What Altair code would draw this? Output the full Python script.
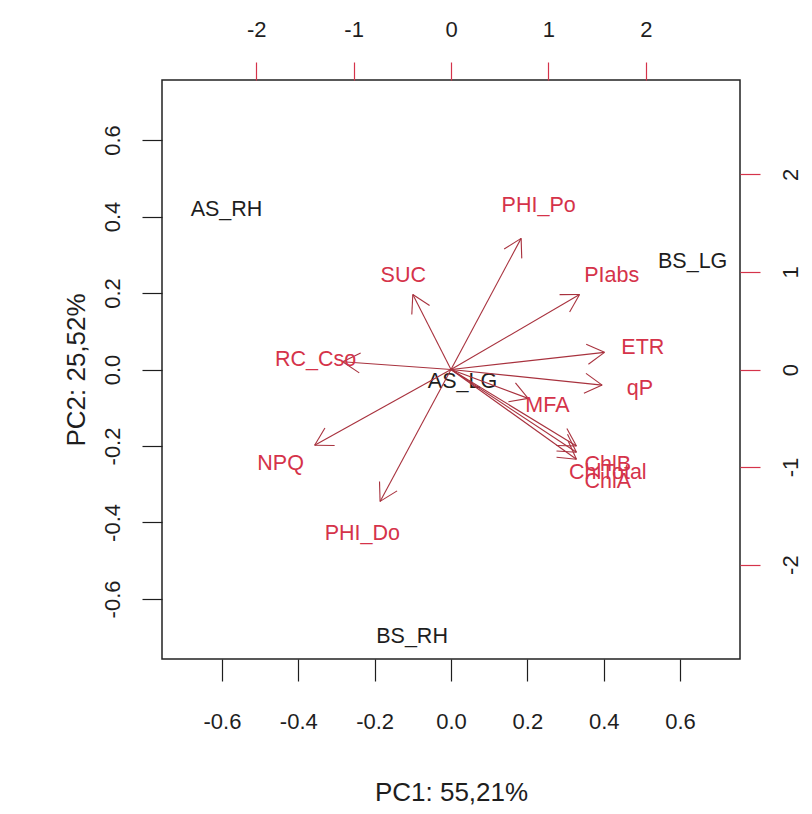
import math
import altair as alt
import pandas as pd

# ---- data ----
score_names = ["AS_RH", "BS_LG", "AS_LG", "BS_RH"]
score_pc1 = [-0.588, 0.633, 0.030, -0.102]
score_pc2 = [0.418, 0.282, -0.033, -0.700]

var_names = ["PHI_Po", "SUC", "PIabs", "ETR", "qP", "MFA",
             "ChlTotal", "ChlB", "ChlA", "RC_Cso", "NPQ", "PHI_Do"]
var_pc1 = [0.90, -0.49, 1.65, 1.97, 1.94, 0.99, 1.61, 1.61, 1.61, -1.39, -1.75, -0.91]
var_pc2 = [1.68, 0.96, 0.96, 0.22, -0.20, -0.37, -1.06, -0.98, -1.15, 0.10, -0.97, -1.69]

pc1_ticks = [-0.6, -0.4, -0.2, 0.0, 0.2, 0.4, 0.6]
pc2_ticks = [-0.6, -0.4, -0.2, 0.0, 0.2, 0.4, 0.6]
load_ticks = [-2, -1, 0, 1, 2]

x_title = "PC1: 55,21%"
y_title = "PC2: 25,52%"

LIM = 0.757          # score axes limit
RATIO = 3.92         # loading / score scale ratio
LIM2 = LIM * RATIO
ARROW_FRAC = 0.8     # R biplot draws arrows to 0.8 of label position
HEAD_LEN = 0.205     # arrowhead length in loading units
HEAD_ANG = math.radians(30)

FONT = "Liberation Sans"
FS_TICK = 22
FS_TEXT = 21.5
FS_TITLE = 26
BLACK = "#1e1e1e"
RED_TXT = "#D5334A"
RED_ARW = "#A8323E"

W, H = 578, 579

scores = pd.DataFrame({"name": score_names, "pc1": score_pc1, "pc2": score_pc2})
loads = pd.DataFrame({"name": var_names, "pc1": var_pc1, "pc2": var_pc2})
loads["tx"] = loads["pc1"] * ARROW_FRAC
loads["ty"] = loads["pc2"] * ARROW_FRAC
loads["ox"] = 0.0
loads["oy"] = 0.0

head_rows = []
for _, r in loads.iterrows():
    a = math.atan2(r["ty"], r["tx"])
    for s in (1, -1):
        head_rows.append({
            "hx0": r["tx"], "hy0": r["ty"],
            "hx1": r["tx"] - HEAD_LEN * math.cos(a + s * HEAD_ANG),
            "hy1": r["ty"] - HEAD_LEN * math.sin(a + s * HEAD_ANG),
        })
heads = pd.DataFrame(head_rows)

minus_fix1 = "replace(format(datum.value, '.1f'), '\u2212', '-')"
minus_fix0 = "replace(format(datum.value, 'd'), '\u2212', '-')"

sc1 = alt.Scale(domain=[-LIM, LIM], nice=False, zero=False)
sc2 = alt.Scale(domain=[-LIM2, LIM2], nice=False, zero=False)

common = dict(grid=False, domain=False, labelFont=FONT, labelFontSize=FS_TICK,
              labelColor=BLACK, labelFlush=False, labelOverlap=False,
              titleFont=FONT, titleFontSize=FS_TITLE, titleFontWeight="normal",
              titleColor=BLACK, tickWidth=1.2)

ax_bottom = alt.Axis(orient="bottom", values=pc1_ticks, labelExpr=minus_fix1,
                     title=x_title, tickSize=22, tickColor=BLACK,
                     labelPadding=47.4, labelBaseline="alphabetic",
                     titleX=W / 2, titleY=141, titleAlign="center",
                     titleBaseline="alphabetic", **common)
ax_left = alt.Axis(orient="left", values=pc2_ticks, labelExpr=minus_fix1,
                   title=y_title, tickSize=20, tickColor=BLACK,
                   labelPadding=22.1, labelAngle=270, labelAlign="center",
                   labelBaseline="alphabetic",
                   titleAngle=270, titleX=-77.7, titleY=H / 2,
                   titleAlign="center", titleBaseline="alphabetic", **common)
ax_top = alt.Axis(orient="top", values=load_ticks, labelExpr=minus_fix0,
                  title=None, tickSize=18, tickColor=RED_TXT,
                  labelPadding=25.1, labelBaseline="alphabetic", **common)
ax_right = alt.Axis(orient="right", values=load_ticks, labelExpr=minus_fix0,
                    title=None, tickSize=20, tickColor=RED_TXT,
                    labelPadding=37.9, labelAngle=270, labelAlign="center",
                    labelBaseline="alphabetic", **common)

score_layer = alt.Chart(scores).mark_text(
    font=FONT, fontSize=FS_TEXT, color=BLACK
).encode(
    x=alt.X("pc1:Q", scale=sc1, axis=ax_bottom),
    y=alt.Y("pc2:Q", scale=sc1, axis=ax_left),
    text="name:N",
)

arrow_lines = alt.Chart(loads).mark_rule(color=RED_ARW, strokeWidth=1.1).encode(
    x=alt.X("ox:Q", scale=sc2, axis=ax_top),
    y=alt.Y("oy:Q", scale=sc2, axis=ax_right),
    x2="tx:Q", y2="ty:Q",
)
arrow_heads = alt.Chart(heads).mark_rule(color=RED_ARW, strokeWidth=1.1).encode(
    x=alt.X("hx0:Q", scale=sc2, axis=ax_top),
    y=alt.Y("hy0:Q", scale=sc2, axis=ax_right),
    x2="hx1:Q", y2="hy1:Q",
)
var_labels = alt.Chart(loads).mark_text(
    font=FONT, fontSize=FS_TEXT, color=RED_TXT
).encode(
    x=alt.X("pc1:Q", scale=sc2, axis=ax_top),
    y=alt.Y("pc2:Q", scale=sc2, axis=ax_right),
    text="name:N",
)

load_layer = alt.layer(arrow_lines, arrow_heads, var_labels)

chart = alt.layer(score_layer, load_layer).resolve_scale(
    x="independent", y="independent"
).properties(
    width=W, height=H,
    autosize=alt.AutoSizeParams(type="none"),
    padding={"left": 154, "top": 72, "right": 64, "bottom": 147},
    background="white",
).configure_view(stroke="#222", strokeWidth=1.5)

chart.save("out.html", embed_options={"renderer": "svg", "actions": False})
